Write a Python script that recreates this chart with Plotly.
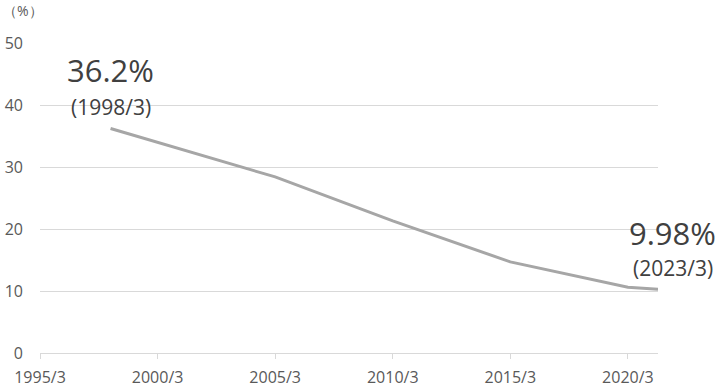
import plotly.graph_objects as go

# data
x_years = [1998.0, 2005.0, 2010.0, 2015.0, 2020.0, 2021.28]
ratio = [36.2, 28.4, 21.3, 14.7, 10.6, 10.3]
x_tick_vals = [1995, 2000, 2005, 2010, 2015, 2020]
x_tick_text = ["1995/3", "2000/3", "2005/3", "2010/3", "2015/3", "2020/3"]
y_tick_vals = [0, 10, 20, 30, 40, 50]
start_label = ("36.2%", "(1998/3)")
end_label = ("9.98%", "(2023/3)")

FONT = "Open Sans, Noto Sans, sans-serif"
TXT = "#595959"
GRID = "#d9d9d9"

fig = go.Figure()
fig.add_trace(go.Scatter(
    x=x_years, y=ratio, mode="lines",
    line=dict(color="#a6a6a6", width=3),
    hoverinfo="skip", cliponaxis=False,
))

fig.update_layout(
    width=717, height=388,
    margin=dict(l=40, r=59, t=43, b=35, autoexpand=False),
    paper_bgcolor="white", plot_bgcolor="white",
    showlegend=False,
    font=dict(family=FONT, color=TXT, size=16),
    xaxis=dict(
        range=[1995, x_years[-1]],
        tickvals=x_tick_vals, ticktext=x_tick_text,
        showgrid=False, zeroline=False, automargin=False,
        showline=True, linecolor=GRID, linewidth=1,
        ticks="outside", ticklen=5, tickcolor=GRID,
        ticklabelstandoff=5,
        tickfont=dict(size=16, color=TXT),
    ),
    yaxis=dict(
        range=[0, 50], tickvals=y_tick_vals, automargin=False,
        showgrid=True, gridcolor=GRID, gridwidth=1,
        zeroline=False, showline=False,
        ticks="", ticklabelstandoff=16,
        tickfont=dict(size=16, color=TXT),
    ),
)

ann = []
ann.append(dict(text="（%）", xref="paper", yref="paper", x=-38/618, y=(353-11)/310,
                xanchor="left", yanchor="middle", showarrow=False, borderpad=0,
                font=dict(size=14, color=TXT)))
ann.append(dict(text=start_label[0], xref="x", yref="paper", x=x_years[0], y=(353-70)/310,
                xanchor="center", yanchor="middle", showarrow=False,
                font=dict(size=31, color="#404040")))
ann.append(dict(text=start_label[1], xref="x", yref="paper", x=x_years[0], y=(353-107)/310,
                xanchor="center", yanchor="middle", showarrow=False,
                font=dict(size=21, color="#404040")))
ann.append(dict(text=end_label[0], xref="paper", yref="paper", x=(672-40)/618, y=(353-233)/310,
                xanchor="center", yanchor="middle", showarrow=False,
                font=dict(size=31, color="#404040")))
ann.append(dict(text=end_label[1], xref="paper", yref="paper", x=(673-40)/618, y=(353-268)/310,
                xanchor="center", yanchor="middle", showarrow=False,
                font=dict(size=21, color="#404040")))
fig.update_layout(annotations=ann)

fig.write_html("out.html", config={"displayModeBar": False},
               post_script="document.body.style.margin='0';document.body.style.padding='0';document.body.style.overflow='hidden';")
